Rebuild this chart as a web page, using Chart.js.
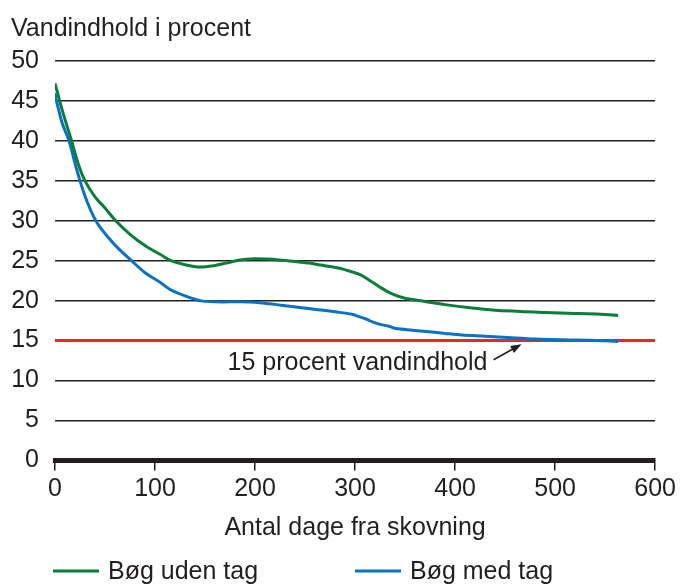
<!DOCTYPE html>
<html>
<head>
<meta charset="utf-8">
<script src="https://cdn.jsdelivr.net/npm/chart.js@4"></script>
<style>
  body { margin: 0; background: #fff; }
  #wrap { width: 680px; height: 585px; position: relative; }
</style>
</head>
<body>
<div id="wrap"><canvas id="chart"></canvas></div>
<script>
// data
const daysUden = [0, 8, 16.6, 23, 30, 40, 50, 60, 75, 91, 105, 116, 130, 145, 160, 171, 185, 199, 212, 224, 240, 254, 266, 278, 288, 297, 305, 315, 326, 337, 350, 370, 390, 415, 440, 465, 490, 520, 545, 563];
const vandUden = [47.2, 43.5, 40, 37.2, 35, 33, 31.6, 30.1, 28.3, 26.8, 25.8, 25.0, 24.5, 24.2, 24.4, 24.7, 25.1, 25.25, 25.2, 25.1, 24.9, 24.7, 24.45, 24.2, 23.95, 23.6, 23.25, 22.5, 21.6, 20.85, 20.3, 19.9, 19.5, 19.1, 18.8, 18.65, 18.5, 18.4, 18.3, 18.15];

const daysMed = [0, 1, 7, 14, 20, 25, 30, 35, 40, 45, 52, 62, 76.5, 90, 105, 115, 130, 145, 160, 185, 200, 215, 228, 245, 261, 280, 297, 304, 311, 318, 326, 334, 341, 357, 374, 390, 407, 430, 457, 480, 507, 535, 555, 563];
const vandMed = [46, 45.3, 42.3, 40, 37.2, 35, 33.1, 31.5, 30.2, 29.2, 28.1, 26.7, 25, 23.5, 22.3, 21.4, 20.6, 20.0, 19.85, 19.85, 19.8, 19.6, 19.4, 19.15, 18.9, 18.6, 18.3, 18.0, 17.7, 17.3, 17.0, 16.8, 16.5, 16.3, 16.1, 15.9, 15.7, 15.55, 15.35, 15.2, 15.1, 15.05, 14.95, 14.9];

const grænseDage = [0, 600];
const grænseVærdi = [15, 15];

const seriesNames = ['Bøg uden tag', 'Bøg med tag'];
const seriesColors = ['#0b7d3a', '#0a72c4'];
const redColor = '#e8262b';
const ink = '#231f20';

// annotation: label anchor and arrow (in data units)
const noteText = '15 procent vandindhold';
const notePos = [172.5, 11.3];
const arrowFrom = [438.5, 12.6];
const arrowTo = [466.5, 14.55];

const font = '"Liberation Sans", Arial, Helvetica, sans-serif';
Chart.defaults.font.family = font;
Chart.defaults.font.size = 25;
Chart.defaults.color = ink;

const toXY = (xs, ys) => xs.map((x, i) => ({ x: x, y: ys[i] }));

// draws y title, note with arrow, and the legend row
const extras = {
  id: 'extras',
  afterDraw(chart) {
    const ctx = chart.ctx;
    const xs = chart.scales.x, ys = chart.scales.y;
    ctx.save();
    ctx.fillStyle = ink;
    ctx.font = '25px ' + font;
    ctx.textBaseline = 'alphabetic';
    ctx.textAlign = 'left';
    ctx.fillText('Vandindhold i procent', 11, 36);

    // note text
    ctx.fillText(noteText, xs.getPixelForValue(notePos[0]), ys.getPixelForValue(notePos[1]));

    // arrow
    const x0 = xs.getPixelForValue(arrowFrom[0]), y0 = ys.getPixelForValue(arrowFrom[1]);
    const x1 = xs.getPixelForValue(arrowTo[0]), y1 = ys.getPixelForValue(arrowTo[1]);
    const ang = Math.atan2(y1 - y0, x1 - x0);
    const hl = 11, hw = 4;
    ctx.strokeStyle = ink;
    ctx.lineWidth = 1.5;
    ctx.beginPath();
    ctx.moveTo(x0, y0);
    ctx.lineTo(x1 - hl * Math.cos(ang), y1 - hl * Math.sin(ang));
    ctx.stroke();
    ctx.beginPath();
    ctx.moveTo(x1, y1);
    ctx.lineTo(x1 - hl * Math.cos(ang) + hw * Math.sin(ang), y1 - hl * Math.sin(ang) - hw * Math.cos(ang));
    ctx.lineTo(x1 - hl * Math.cos(ang) - hw * Math.sin(ang), y1 - hl * Math.sin(ang) + hw * Math.cos(ang));
    ctx.closePath();
    ctx.fill();

    // legend
    const legendX = [53, 355];
    const legendY = 571;
    seriesNames.forEach((name, i) => {
      ctx.strokeStyle = seriesColors[i];
      ctx.lineWidth = 3;
      ctx.beginPath();
      ctx.moveTo(legendX[i], legendY);
      ctx.lineTo(legendX[i] + 46, legendY);
      ctx.stroke();
      ctx.fillStyle = ink;
      ctx.fillText(name, legendX[i] + 55, legendY + 8);
    });
    ctx.restore();
  }
};

new Chart(document.getElementById('chart'), {
  type: 'line',
  data: {
    datasets: [
      {
        label: seriesNames[0],
        data: toXY(daysUden, vandUden),
        borderColor: seriesColors[0],
        borderWidth: 3,
        pointRadius: 0,
        tension: 0.3,
        fill: false
      },
      {
        label: seriesNames[1],
        data: toXY(daysMed, vandMed),
        borderColor: seriesColors[1],
        borderWidth: 3,
        pointRadius: 0,
        tension: 0.3,
        fill: false
      },
      {
        label: '15 procent',
        data: toXY(grænseDage, grænseVærdi),
        borderColor: redColor,
        borderWidth: 3,
        pointRadius: 0,
        fill: false
      }
    ]
  },
  options: {
    responsive: true,
    maintainAspectRatio: false,
    animation: false,
    layout: { padding: { top: 61, right: 23, bottom: 41.6, left: 0 } },
    plugins: {
      legend: { display: false },
      tooltip: { enabled: false }
    },
    scales: {
      x: {
        type: 'linear',
        min: 0,
        max: 600,
        ticks: { stepSize: 100, padding: 4, maxRotation: 0 },
        grid: { drawOnChartArea: false, drawTicks: true, tickLength: 10, color: ink, lineWidth: 1.5 },
        border: { display: true, width: 5, color: ink },
        title: { display: true, text: 'Antal dage fra skovning', padding: 0 },
        afterFit: (s) => { s.height = 83; }
      },
      y: {
        min: 0,
        max: 50,
        ticks: { stepSize: 5, padding: 16 },
        grid: { color: ink, lineWidth: 1.5, drawTicks: false },
        border: { display: false },
        afterFit: (s) => { s.width = 55; }
      }
    }
  },
  plugins: [extras]
});
</script>
</body>
</html>
